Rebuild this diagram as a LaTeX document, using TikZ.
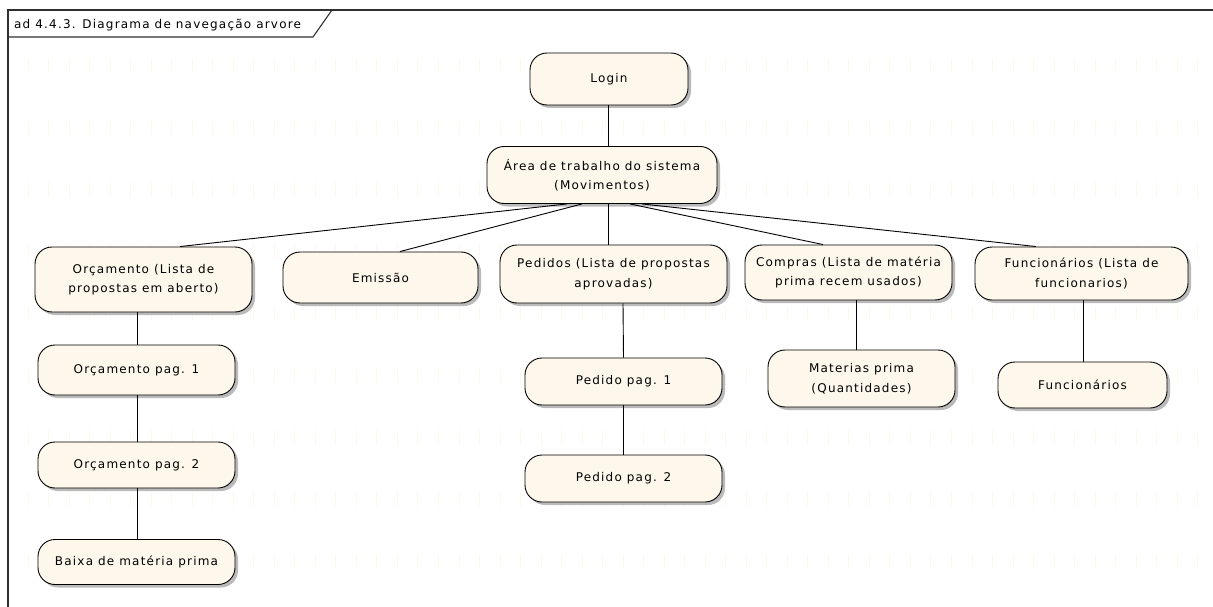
\documentclass[tikz,border=0pt]{standalone}
\usepackage{fontspec}
\setmainfont[LetterSpace=10]{DejaVu Sans}
\usetikzlibrary{shadows}

\definecolor{actfill}{HTML}{FEF8EC}
\definecolor{gridtick}{HTML}{FEF8EC}
\definecolor{framecol}{HTML}{303030}

\tikzset{
  act/.style={draw=black, line width=0.9pt, fill=actfill, rounded corners=17pt,
    align=center, inner sep=0pt, font=\fontsize{12}{19.5}\selectfont,
    drop shadow={shadow xshift=3pt, shadow yshift=-3pt, fill=black!30, opacity=0.9}},
  link/.style={draw=black, line width=0.9pt},
}

\begin{document}
\begin{tikzpicture}[x=1pt, y=-1pt]
\path[use as bounding box] (0,0) rectangle (1213,607);

% faint background grid ticks
\foreach \r in {0,...,8}{
  \foreach \c in {0,...,57}{
    \draw[gridtick, line width=0.8pt] (28+20.52*\c, 58+62*\r) -- ++(0,15);
  }
}

% diagram frame with its name tab
\draw[framecol, line width=1.4pt] (8,607) -- (8,10) -- (1213,10);
\draw[framecol, line width=1.1pt] (8,37) -- (313,37) -- (332,10);
\node[anchor=base west, inner sep=0pt, font=\fontsize{12}{14}\selectfont] (title) at (14,29)
  {ad 4.4.3. Diagrama de navegação arvore};

% activities
\node[act, minimum width=158pt, minimum height=52pt] (login) at (609,79) {Login};
\node[act, minimum width=230pt, minimum height=57pt] (area) at (602,175)
  {Área de trabalho do sistema\\(Movimentos)};

\node[act, minimum width=217pt, minimum height=65pt] (orc) at (143.5,279.5)
  {Orçamento (Lista de\\propostas em aberto)};
\node[act, minimum width=195pt, minimum height=51pt] (emi) at (380.5,277.5) {Emissão};
\node[act, minimum width=227pt, minimum height=58pt] (ped) at (613.5,274)
  {Pedidos (Lista de propostas\\aprovadas)};
\node[act, minimum width=207pt, minimum height=55pt] (com) at (848.5,272.5)
  {Compras (Lista de matéria\\prima recem usados)};
\node[act, minimum width=213pt, minimum height=53pt] (fun) at (1081.5,273.5)
  {Funcionários (Lista de\\funcionarios)};

\node[act, minimum width=197pt, minimum height=50pt] (orc1) at (136.5,370) {Orçamento pag. 1};
\node[act, minimum width=197pt, minimum height=46pt] (orc2) at (136.5,465) {Orçamento pag. 2};
\node[act, minimum width=197pt, minimum height=45pt] (baixa) at (136.5,562) {Baixa de matéria prima};

\node[act, minimum width=197pt, minimum height=47pt] (ped1) at (623.5,381.5) {Pedido pag. 1};
\node[act, minimum width=197pt, minimum height=47pt] (ped2) at (623.5,478.5) {Pedido pag. 2};

\node[act, minimum width=187pt, minimum height=57pt] (mat) at (861.5,378.5)
  {Materias prima\\(Quantidades)};
\node[act, minimum width=169pt, minimum height=46pt] (fun2) at (1082.5,385) {Funcionários};

% navigation links
\draw[link] ([xshift=-1pt]login.south) -- ([xshift=6pt]area.north);
\draw[link] ([xshift=-35pt]area.south) -- ([xshift=36.5pt]orc.north);
\draw[link] ([xshift=-20pt]area.south) -- ([xshift=19.5pt]emi.north);
\draw[link] ([xshift=6pt]area.south) -- ([xshift=-5.5pt]ped.north);
\draw[link] ([xshift=28pt]area.south) -- ([xshift=-25.5pt]com.north);
\draw[link] ([xshift=40pt]area.south) -- ([xshift=-45.5pt]fun.north);

\draw[link] ([xshift=-6.5pt]orc.south) -- ([xshift=0.5pt]orc1.north);
\draw[link] ([xshift=0.5pt]orc1.south) -- ([xshift=0.5pt]orc2.north);
\draw[link] ([xshift=0.5pt]orc2.south) -- ([xshift=0.5pt]baixa.north);

\draw[link] ([xshift=9.5pt]ped.south) -- (ped1.north);
\draw[link] (ped1.south) -- (ped2.north);

\draw[link] ([xshift=7.5pt]com.south) -- ([xshift=-5.5pt]mat.north);
\draw[link] ([xshift=1.5pt]fun.south) -- ([xshift=0.5pt]fun2.north);
\end{tikzpicture}
\end{document}
